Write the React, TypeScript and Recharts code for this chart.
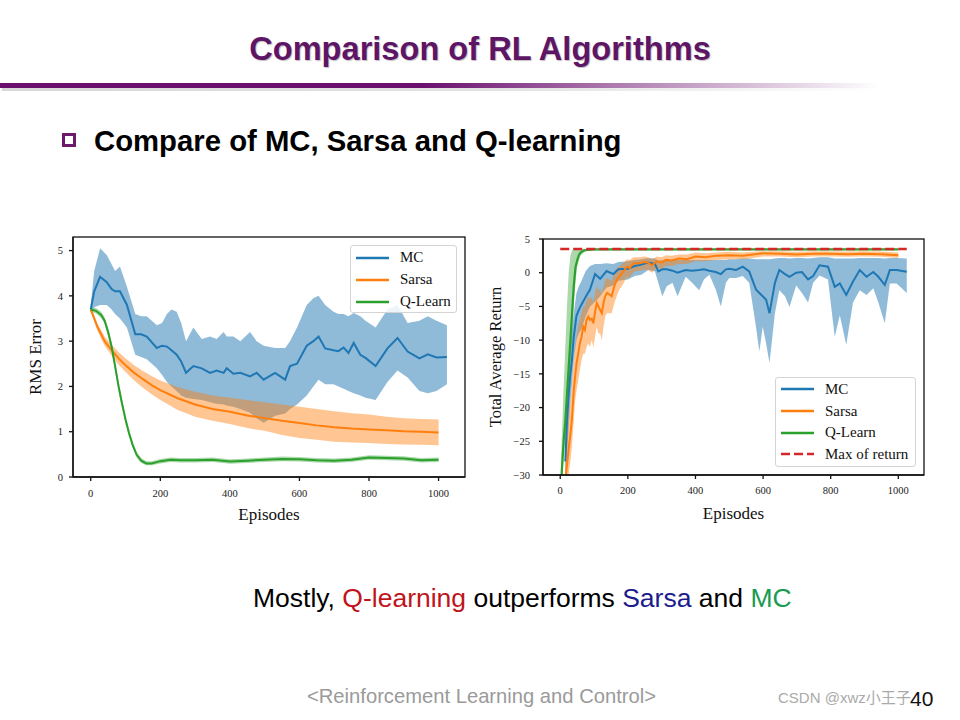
import React from 'react';
import { ComposedChart, Line, Area, XAxis, YAxis } from 'recharts';

type Row = [number, number, number, number]; // episode, mean, low, high

// ---------- Left chart: RMS Error ----------
const leftMC: Row[] = [
  [0, 3.7, 3.65, 3.8], [10, 4.1, 3.75, 4.55], [27, 4.42, 3.8, 5.05], [46, 4.3, 3.8, 4.9],
  [60, 4.15, 3.7, 4.7], [70, 4.1, 3.6, 4.55], [84, 4.1, 3.5, 4.65], [104, 3.8, 3.3, 4.2],
  [128, 3.15, 2.7, 3.6], [145, 3.15, 2.65, 3.55], [161, 3.1, 2.6, 3.55], [190, 2.85, 2.4, 3.35],
  [205, 2.9, 2.25, 3.4], [219, 2.88, 2.1, 3.6], [232, 2.8, 2.0, 3.7], [247, 2.7, 1.9, 3.65],
  [260, 2.55, 1.8, 3.4], [274, 2.3, 1.75, 3.0], [295, 2.45, 1.72, 3.3], [319, 2.4, 1.7, 3.05],
  [343, 2.3, 1.65, 3.1], [362, 2.35, 1.62, 3.05], [382, 2.3, 1.6, 3.2], [391, 2.4, 1.58, 3.1],
  [410, 2.28, 1.55, 3.1], [430, 2.3, 1.5, 3.0], [458, 2.22, 1.42, 3.2], [477, 2.3, 1.3, 3.0],
  [497, 2.15, 1.2, 2.9], [530, 2.3, 1.35, 2.85], [559, 2.15, 1.4, 2.85], [573, 2.45, 1.5, 3.0],
  [593, 2.5, 1.6, 3.3], [621, 2.9, 1.8, 3.8], [640, 3.0, 2.0, 3.95], [655, 3.1, 2.15, 4.0],
  [674, 2.84, 2.05, 3.8], [698, 2.8, 2.05, 3.65], [712, 2.78, 2.0, 3.6], [727, 2.86, 1.95, 3.6],
  [741, 2.74, 1.9, 3.55], [756, 2.96, 1.85, 3.62], [775, 2.7, 1.8, 3.55], [790, 2.63, 1.75, 3.45],
  [819, 2.45, 1.7, 3.3], [853, 2.84, 2.1, 3.7], [882, 3.07, 2.35, 3.8], [911, 2.77, 2.2, 3.4],
  [945, 2.62, 1.9, 3.45], [969, 2.71, 1.85, 3.55], [994, 2.64, 1.9, 3.45], [1024, 2.65, 2.05, 3.35],
];

const leftSarsa: Row[] = [
  [0, 3.7, 3.65, 3.75], [20, 3.3, 3.22, 3.38], [40, 3.0, 2.9, 3.1], [60, 2.8, 2.68, 2.92],
  [80, 2.62, 2.48, 2.76], [100, 2.47, 2.32, 2.62], [125, 2.3, 2.13, 2.47], [150, 2.16, 1.97, 2.34],
  [175, 2.03, 1.83, 2.23], [200, 1.92, 1.7, 2.13], [250, 1.74, 1.48, 1.99], [300, 1.6, 1.33, 1.88],
  [350, 1.5, 1.24, 1.8], [400, 1.44, 1.17, 1.75], [450, 1.36, 1.08, 1.7], [500, 1.3, 1.02, 1.65],
  [550, 1.24, 0.93, 1.6], [600, 1.19, 0.86, 1.55], [650, 1.14, 0.82, 1.5], [700, 1.1, 0.78, 1.45],
  [750, 1.07, 0.76, 1.41], [800, 1.05, 0.75, 1.38], [850, 1.03, 0.73, 1.33], [900, 1.01, 0.72, 1.3],
  [950, 1.0, 0.71, 1.28], [1000, 0.98, 0.7, 1.27],
];

const leftQ: Row[] = [
  [0, 3.7, 3.65, 3.75], [15, 3.67, 3.61, 3.73], [30, 3.58, 3.51, 3.65], [40, 3.45, 3.38, 3.52],
  [50, 3.2, 3.11, 3.29], [60, 2.88, 2.78, 2.98], [70, 2.45, 2.34, 2.56], [80, 2.0, 1.89, 2.11],
  [90, 1.62, 1.52, 1.72], [100, 1.27, 1.18, 1.36], [110, 0.97, 0.89, 1.05], [120, 0.72, 0.65, 0.79],
  [132, 0.49, 0.43, 0.55], [145, 0.36, 0.31, 0.42], [160, 0.3, 0.26, 0.35], [175, 0.3, 0.26, 0.35],
  [200, 0.35, 0.3, 0.4], [230, 0.38, 0.33, 0.43], [260, 0.37, 0.32, 0.42], [300, 0.37, 0.32, 0.42],
  [350, 0.38, 0.33, 0.43], [400, 0.34, 0.29, 0.39], [450, 0.36, 0.31, 0.41], [500, 0.38, 0.33, 0.43],
  [550, 0.4, 0.35, 0.45], [600, 0.39, 0.34, 0.44], [650, 0.37, 0.32, 0.42], [700, 0.36, 0.31, 0.41],
  [750, 0.38, 0.33, 0.43], [800, 0.43, 0.38, 0.48], [850, 0.42, 0.37, 0.47], [900, 0.41, 0.36, 0.46],
  [950, 0.37, 0.32, 0.42], [1000, 0.38, 0.33, 0.43],
];

// ---------- Right chart: Total Average Return ----------
const rightMC: Row[] = [
  [15, -28, -32, -24], [20, -22, -27, -17], [25, -18, -23, -13], [30, -15, -19, -10],
  [34, -13.3, -17, -9], [40, -9.5, -13, -6], [48, -6.4, -10, -3], [55, -5.5, -9, -2],
  [63, -4.7, -8.3, -1.2], [75, -3.6, -6.5, 0.2], [88, -2.5, -5, 1.0], [103, -0.2, -4.3, 1.3],
  [118, -0.9, -3.5, 1.3], [137, 0.25, -2.2, 1.4], [157, -0.2, -1.9, 1.3], [172, 0.5, -1.2, 1.6],
  [200, 0.6, -1, 1.7], [220, 1.0, -0.5, 1.9], [240, 1.2, -0.3, 2.0],
  [260, 1.5, 0.4, 2.2], [280, 1.3, 0.2, 2.1], [290, 0.2, -1.5, 1.8], [302, 0.5, -3.5, 1.9],
  [315, 0.5, -2.0, 1.9], [332, 0.3, -1.5, 1.9], [347, 0.0, -3.5, 1.9], [371, 0.4, -0.6, 1.9],
  [390, 0.3, -1.5, 1.9], [411, 0.4, -2.6, 1.9], [425, 0.5, -1.0, 1.9], [441, 0.3, -0.3, 1.9],
  [460, 0.1, -2.5, 1.9], [475, -0.2, -5.0, 1.9], [490, 0.5, -1.5, 1.9], [500, 0.6, -0.8, 2.0],
  [520, 0.4, -0.8, 2.0], [540, 0.9, -0.5, 2.1], [559, 0.2, -1.5, 2.1], [579, -2.5, -8.0, 2.0],
  [589, -3.0, -11.7, 2.0], [599, -3.5, -8.0, 2.0], [609, -4.0, -10.5, 2.0], [619, -6.0, -13.4, 2.0],
  [635, -1.5, -6.0, 2.1], [648, 0.4, -2.6, 2.2], [665, -0.2, -3.5, 2.2], [678, -0.6, -5.1, 2.1],
  [698, 0.0, -1.9, 2.2], [715, 0.1, -3.0, 2.2], [733, -1.0, -4.4, 2.1], [748, -0.5, -1.5, 2.2],
  [767, 1.1, -0.4, 2.3], [792, 0.9, -1.0, 2.3], [812, -2.1, -9.5, 2.1], [827, -1.6, -6.3, 2.1],
  [846, -3.3, -10.7, 2.1], [866, -1.3, -4.4, 2.1], [886, 0.4, -2.6, 2.2], [906, -0.6, -3.3, 2.2],
  [926, 0.1, -2.3, 2.2], [941, -0.6, -4.4, 2.2], [960, -1.8, -7.5, 2.1], [975, 0.4, -1.6, 2.2],
  [995, 0.4, -1.6, 2.2], [1025, 0.15, -3.0, 2.1],
];

const rightSarsa: Row[] = [
  [15, -31, -34, -28], [19, -29, -32, -25], [25, -26, -30, -21], [30, -24, -28, -19],
  [34, -22, -26, -17], [40, -17.5, -22, -13], [44, -15.4, -19, -11], [48, -13.5, -17.5, -9.5],
  [53, -12, -16, -8], [58, -10.5, -14.5, -7], [63, -9.5, -13, -6], [68, -8, -12, -5],
  [73, -8.5, -12, -5], [78, -7, -11, -4], [83, -6.5, -10.5, -3.5], [88, -7, -11, -4],
  [93, -6.8, -10, -3.5], [98, -7.5, -11, -4.5], [103, -5.8, -9.5, -3], [108, -4.5, -8, -2],
  [113, -5, -9, -2.5], [118, -5.5, -9, -2.5], [123, -6, -10, -3], [128, -4.5, -8, -2],
  [133, -3.5, -6.5, -1], [138, -3, -6, -0.8], [145, -3.2, -6, -1], [152, -3.5, -6, -1.2],
  [160, -2, -4.5, 0], [167, -1.1, -3.5, 0.6], [175, -0.6, -2.5, 1], [182, -0.1, -2, 1.3],
  [190, 0.4, -1.3, 1.6], [197, 0.9, -0.6, 2.0], [205, 0.7, -0.8, 1.9], [217, 1.4, 0.1, 2.3],
  [233, 1.4, 0.3, 2.3], [247, 1.6, 0.4, 2.4], [260, 1.5, 0.4, 2.3], [272, 1.1, 0, 2.0],
  [285, 1.7, 0.7, 2.4], [300, 1.5, 0.5, 2.3], [312, 1.9, 1.0, 2.6], [330, 1.8, 1.0, 2.5],
  [350, 2.1, 1.3, 2.7], [375, 2.0, 1.3, 2.7], [400, 2.4, 1.7, 3.0], [430, 2.3, 1.7, 2.9],
  [460, 2.5, 1.9, 3.0], [500, 2.6, 2.0, 3.1], [540, 2.5, 2.0, 3.0], [570, 2.7, 2.2, 3.1],
  [600, 2.9, 2.4, 3.2], [650, 2.8, 2.4, 3.2], [698, 2.7, 2.3, 3.1], [750, 2.8, 2.4, 3.2],
  [797, 2.8, 2.4, 3.2], [850, 2.75, 2.35, 3.15], [896, 2.8, 2.4, 3.2], [950, 2.75, 2.35, 3.15],
  [1000, 2.6, 2.2, 3.0],
];

const rightQ: Row[] = [
  [3, -31, -33, -27], [5, -29, -31, -24], [10, -25, -28, -17], [15, -22, -25, -11],
  [20, -18, -22, -5], [25, -14, -18, 0], [30, -10, -14, 2.5], [35, -6, -10, 3.3],
  [40, -2, -5, 3.5], [45, 0.8, -1.5, 3.5], [50, 1.8, 0.8, 3.5], [55, 2.6, 1.8, 3.5],
  [60, 3.0, 2.5, 3.5], [70, 3.3, 3.0, 3.5], [80, 3.4, 3.25, 3.5], [100, 3.45, 3.35, 3.5],
  [1000, 3.45, 3.4, 3.5],
];

const maxReturnEpisodes = [0, 1025];
const maxReturnValue = 3.5;

const xTicks = [0, 200, 400, 600, 800, 1000];
const leftYTicks = [0, 1, 2, 3, 4, 5];
const rightYTicks = [-30, -25, -20, -15, -10, -5, 0, 5];

const seriesNames = ['MC', 'Sarsa', 'Q-Learn'];
const maxName = 'Max of return';

// ---------- helpers ----------
const toSeries = (rows: Row[]) => rows.map(([x, m, lo, hi]) => ({ x, m, band: [lo, hi] }));
const maxSeries = maxReturnEpisodes.map((x) => ({ x, m: maxReturnValue }));

const C = { mc: '#1f77b4', sarsa: '#ff7f0e', q: '#2ca02c', max: '#d62728' };
const SERIF = '"Liberation Serif", "Times New Roman", serif';
const SANS = '"Liberation Sans", Arial, sans-serif';
const fmtMinus = (v: number) => String(v).replace('-', '\u2212');
const tickStyle = { fontSize: 10.5, fill: '#222', fontFamily: SERIF };
const X_DOMAIN: [number, number] = [-51, 1076];
const X_AXIS_H = 30;

type Margin = { top: number; right: number; bottom: number; left: number };

// Box around the plot area (matplotlib-style spines), derived from the chart's layout constants
function Frame({ w, h, margin, yAxisW }: { w: number; h: number; margin: Margin; yAxisW: number }) {
  const left = margin.left + yAxisW;
  const top = margin.top;
  const width = w - margin.right - left;
  const height = h - margin.bottom - X_AXIS_H - top;
  return (
    <svg width={w} height={h} style={{ position: 'absolute', left: 0, top: 0, pointerEvents: 'none', zIndex: 5 }}>
      <rect x={left} y={top} width={width} height={height} fill="none" stroke="#111" strokeWidth={1.3} />
    </svg>
  );
}

type LegendItem = { label: string; color: string; dashed?: boolean };
function LegendBox({ left, top, width, height, rowH, items }: { left: number; top: number; width: number; height: number; rowH: number; items: LegendItem[] }) {
  return (
    <div style={{ position: 'absolute', left, top, width, height, zIndex: 6, boxSizing: 'border-box', border: '1px solid #d4d4d4', borderRadius: 3, background: 'rgba(255,255,255,0.85)', fontFamily: SERIF, fontSize: 15, color: '#111' }}>
      {items.map((it, i) => (
        <div key={it.label} style={{ position: 'absolute', left: 0, top: 0.5 + i * rowH, height: rowH, width: '100%', display: 'flex', alignItems: 'center' }}>
          <svg width={36} height={6} style={{ marginLeft: 4 }}>
            <line x1={1} y1={3} x2={34} y2={3} stroke={it.color} strokeWidth={2.5} strokeDasharray={it.dashed ? '9 4' : undefined} />
          </svg>
          <span style={{ marginLeft: 9, whiteSpace: 'nowrap' }}>{it.label}</span>
        </div>
      ))}
    </div>
  );
}

function LeftChart() {
  const mc = toSeries(leftMC), sa = toSeries(leftSarsa), q = toSeries(leftQ);
  const yDom: [number, number] = [0, 5.3];
  const W = 455, H = 300, YW = 30;
  const margin = { top: 7, right: 10, bottom: 23, left: 23 };
  return (
    <div style={{ position: 'absolute', left: 20, top: 230, width: W, height: H }}>
      <ComposedChart width={W} height={H} margin={margin}>
        <XAxis dataKey="x" type="number" domain={X_DOMAIN} ticks={xTicks} interval={0} allowDataOverflow height={X_AXIS_H}
          tickSize={4} tickMargin={9} tick={tickStyle} stroke="#111" strokeWidth={1.3}
          label={{ value: 'Episodes', position: 'bottom', offset: 1, style: { fontSize: 17, fill: '#111', fontFamily: SERIF } }} />
        <YAxis type="number" domain={yDom} ticks={leftYTicks} interval={0} allowDataOverflow width={YW}
          tickSize={4} tickMargin={6} tick={tickStyle} stroke="#111" strokeWidth={1.3}
          label={{ value: 'RMS Error', angle: -90, position: 'insideLeft', offset: -8, style: { fontSize: 17, fill: '#111', fontFamily: SERIF, textAnchor: 'middle' } }} />
        <Area data={mc} dataKey="band" type="linear" stroke="none" fill={C.mc} fillOpacity={0.5} isAnimationActive={false} activeDot={false} />
        <Line data={mc} dataKey="m" name={seriesNames[0]} type="linear" stroke={C.mc} strokeWidth={2} dot={false} activeDot={false} isAnimationActive={false} />
        <Area data={sa} dataKey="band" type="linear" stroke="none" fill={C.sarsa} fillOpacity={0.45} isAnimationActive={false} activeDot={false} />
        <Line data={sa} dataKey="m" name={seriesNames[1]} type="linear" stroke={C.sarsa} strokeWidth={2} dot={false} activeDot={false} isAnimationActive={false} />
        <Area data={q} dataKey="band" type="linear" stroke="none" fill={C.q} fillOpacity={0.4} isAnimationActive={false} activeDot={false} />
        <Line data={q} dataKey="m" name={seriesNames[2]} type="linear" stroke={C.q} strokeWidth={2} dot={false} activeDot={false} isAnimationActive={false} />
      </ComposedChart>
      <Frame w={W} h={H} margin={margin} yAxisW={YW} />
      <LegendBox left={330} top={15} width={107} height={68} rowH={22}
        items={[{ label: seriesNames[0], color: C.mc }, { label: seriesNames[1], color: C.sarsa }, { label: seriesNames[2], color: C.q }]} />
    </div>
  );
}

function RightChart() {
  const mc = toSeries(rightMC), sa = toSeries(rightSarsa), q = toSeries(rightQ);
  const yDom: [number, number] = [-30, 5];
  const W = 450, H = 300, YW = 36;
  const margin = { top: 9, right: 11, bottom: 25, left: 22 };
  return (
    <div style={{ position: 'absolute', left: 485, top: 230, width: W, height: H }}>
      <ComposedChart width={W} height={H} margin={margin}>
        <XAxis dataKey="x" type="number" domain={X_DOMAIN} ticks={xTicks} interval={0} allowDataOverflow height={X_AXIS_H}
          tickSize={4} tickMargin={8} tick={tickStyle} stroke="#111" strokeWidth={1.3}
          label={{ value: 'Episodes', position: 'bottom', offset: 2, style: { fontSize: 17, fill: '#111', fontFamily: SERIF } }} />
        <YAxis type="number" domain={yDom} ticks={rightYTicks} interval={0} allowDataOverflow width={YW}
          tickSize={4} tickMargin={9} tick={tickStyle} tickFormatter={fmtMinus} stroke="#111" strokeWidth={1.3}
          label={{ value: 'Total Average Return', angle: -90, position: 'insideLeft', offset: -12, style: { fontSize: 16.5, fill: '#111', fontFamily: SERIF, textAnchor: 'middle' } }} />
        <Area data={mc} dataKey="band" type="linear" stroke="none" fill={C.mc} fillOpacity={0.5} isAnimationActive={false} activeDot={false} />
        <Line data={mc} dataKey="m" name={seriesNames[0]} type="linear" stroke={C.mc} strokeWidth={2} dot={false} activeDot={false} isAnimationActive={false} />
        <Area data={sa} dataKey="band" type="linear" stroke="none" fill={C.sarsa} fillOpacity={0.45} isAnimationActive={false} activeDot={false} />
        <Line data={sa} dataKey="m" name={seriesNames[1]} type="linear" stroke={C.sarsa} strokeWidth={2} dot={false} activeDot={false} isAnimationActive={false} />
        <Area data={q} dataKey="band" type="linear" stroke="none" fill={C.q} fillOpacity={0.4} isAnimationActive={false} activeDot={false} />
        <Line data={q} dataKey="m" name={seriesNames[2]} type="linear" stroke={C.q} strokeWidth={2.2} dot={false} activeDot={false} isAnimationActive={false} />
        <Line data={maxSeries} dataKey="m" name={maxName} type="linear" stroke={C.max} strokeWidth={2.5} strokeDasharray="9 4" dot={false} activeDot={false} isAnimationActive={false} />
      </ComposedChart>
      <Frame w={W} h={H} margin={margin} yAxisW={YW} />
      <LegendBox left={290} top={147} width={141} height={90} rowH={21.7}
        items={[{ label: seriesNames[0], color: C.mc }, { label: seriesNames[1], color: C.sarsa }, { label: seriesNames[2], color: C.q }, { label: maxName, color: C.max, dashed: true }]} />
    </div>
  );
}

export default function App() {
  return (
    <div style={{ position: 'absolute', left: 0, top: 0, width: 960, height: 720, overflow: 'hidden', background: '#fff', fontFamily: SANS }}>
      {/* Title */}
      <div style={{ position: 'absolute', left: 0, top: 33, width: 960, textAlign: 'center', fontSize: 32.6, lineHeight: '32px', fontWeight: 'bold', color: '#5e1566', textShadow: '1px 1px 1px rgba(0,0,0,0.25)' }}>
        Comparison of RL Algorithms
      </div>
      {/* Title rule */}
      <div style={{ position: 'absolute', left: 0, top: 83, width: 880, height: 5, background: 'linear-gradient(to right, #6b0f6e 0%, #6b0f6e 48%, rgba(107,15,110,0.55) 70%, rgba(107,15,110,0) 100%)' }} />
      <div style={{ position: 'absolute', left: 2, top: 88, width: 880, height: 3, background: 'linear-gradient(to right, #d8d8d8 0%, #e4e4e4 60%, rgba(255,255,255,0) 100%)' }} />
      {/* Bullet */}
      <div style={{ position: 'absolute', left: 62, top: 133, width: 14, height: 14, boxSizing: 'border-box', border: '3px solid #6b1a6e' }} />
      <div style={{ position: 'absolute', left: 94, top: 126, fontSize: 29.3, lineHeight: '29px', fontWeight: 'bold', color: '#000', whiteSpace: 'nowrap' }}>
        Compare of MC, Sarsa and Q-learning
      </div>

      <LeftChart />
      <RightChart />

      {/* Conclusion */}
      <div style={{ position: 'absolute', left: 253, top: 585, fontSize: 26.5, lineHeight: '26.5px', color: '#000', whiteSpace: 'nowrap' }}>
        Mostly, <span style={{ color: '#c0141c' }}>Q-learning</span> outperforms <span style={{ color: '#1c1c8c' }}>Sarsa</span> and <span style={{ color: '#1a9b50' }}>MC</span>
      </div>

      {/* Footer */}
      <div style={{ position: 'absolute', left: 307, top: 686, fontSize: 20.2, lineHeight: '20px', color: '#9a9a9a', whiteSpace: 'nowrap' }}>
        &lt;Reinforcement Learning and Control&gt;
      </div>
      <div style={{ position: 'absolute', left: 778, top: 690, fontSize: 15, lineHeight: '15px', color: '#aaaaaa', whiteSpace: 'nowrap', fontFamily: '"Liberation Sans", "Noto Sans CJK SC", sans-serif' }}>
        CSDN @xwz小王子
      </div>
      <div style={{ position: 'absolute', left: 910, top: 688, fontSize: 21, lineHeight: '21px', color: '#111', whiteSpace: 'nowrap' }}>
        40
      </div>
    </div>
  );
}
